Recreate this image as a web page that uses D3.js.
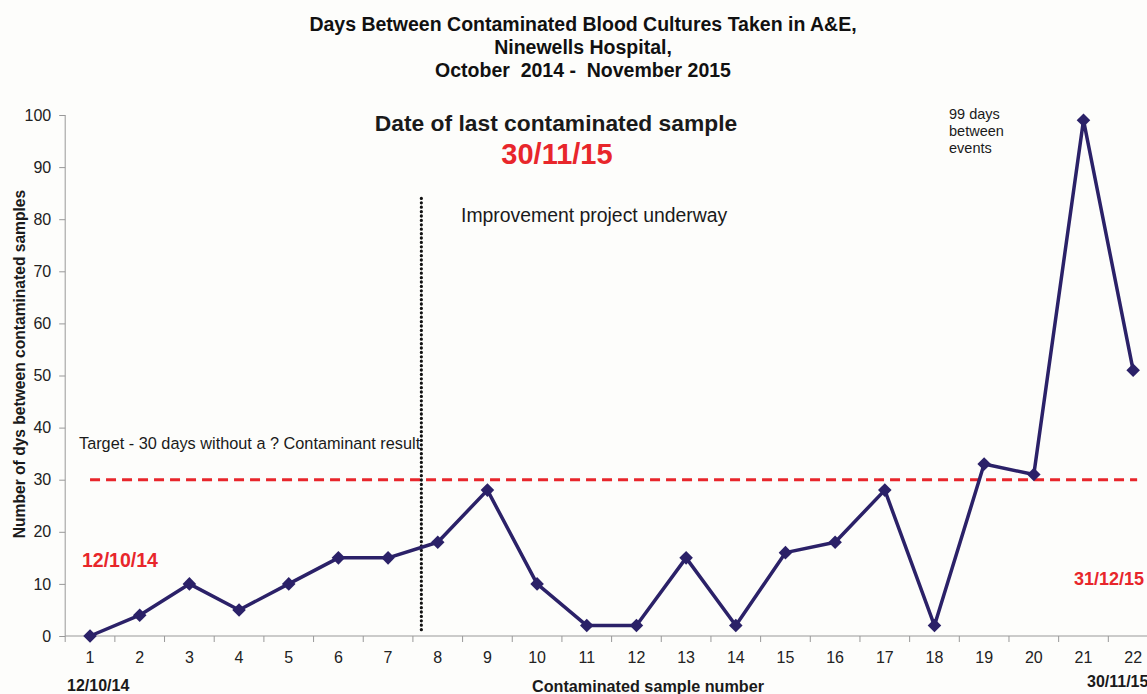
<!DOCTYPE html>
<html>
<head>
<meta charset="utf-8">
<script src="https://cdn.jsdelivr.net/npm/d3@7"></script>
<style>
  body { margin: 0; background: #fdfdfb; }
  svg { font-family: "Liberation Sans", Arial, sans-serif; }
  .axis text { font-size: 16px; fill: #222; }
  .axis path, .axis line { stroke: #999; }
</style>
</head>
<body>
<script>
    const chart_width = 1147;
    const chart_height = 694;

    // data
    const sample_numbers = d3.range(1, 23);
    const days_between = [0, 4, 10, 5, 10, 15, 15, 18, 28, 10, 2, 2, 15, 2, 16, 18, 28, 2, 33, 31, 99, 51];
    const y_ticks = [0, 10, 20, 30, 40, 50, 60, 70, 80, 90, 100];
    const target_days = 30;
    const project_start = 7.67;   // dotted line between samples 7 and 8
    const title_lines = ["Days Between Contaminated Blood Cultures Taken in A&E,", "Ninewells Hospital,", "October  2014 -  November 2015"];

    const svg = d3.select('body').append('svg').attr('width', chart_width).attr('height', chart_height);

    const x = d3.scaleLinear().domain([0.5, 22.5]).range([65.2, 1158]);
    const y = d3.scaleLinear().domain([0, 100]).range([636, 115]);

    // title
    svg.append('g').selectAll('text')
        .data(title_lines)
        .enter()
        .append('text')
          .attr('x', 583)
          .attr('y', (d, i) => 31 + i * 23)
          .attr('text-anchor', 'middle')
          .attr('font-size', 19.5)
          .attr('font-weight', 'bold')
          .attr('fill', '#111')
          .style('white-space', 'pre')
          .text(d => d);

    // axes
    svg.append('g')
        .attr('class', 'axis')
        .attr('transform', 'translate(' + x(0.5) + ',0)')
        .call(d3.axisLeft(y).tickValues(y_ticks).tickSize(6).tickPadding(8))
        .call(g => g.select('.domain').attr('d', 'M0,' + y(0) + 'V' + y(100)));

    const xAxis = svg.append('g')
        .attr('class', 'axis')
        .attr('transform', 'translate(0,' + y(0) + ')');
    xAxis.append('line')
        .attr('x1', x(0.5)).attr('x2', chart_width)
        .attr('stroke', '#999');
    xAxis.selectAll('.tick-mark')
        .data(d3.range(0.5, 22.6, 1))
        .enter()
        .append('line')
          .attr('x1', d => x(d)).attr('x2', d => x(d))
          .attr('y1', 0).attr('y2', 6)
          .attr('stroke', '#999');
    xAxis.selectAll('.tick-label')
        .data(sample_numbers)
        .enter()
        .append('text')
          .attr('x', d => x(d))
          .attr('y', 27)
          .attr('text-anchor', 'middle')
          .text(d => d);

    // target line
    svg.append('line')
        .attr('x1', x(1)).attr('x2', x(22.08))
        .attr('y1', y(target_days)).attr('y2', y(target_days))
        .attr('stroke', '#e8262b')
        .attr('stroke-width', 3)
        .attr('stroke-dasharray', '10,6');

    // improvement project start
    svg.append('line')
        .attr('x1', x(project_start)).attr('x2', x(project_start))
        .attr('y1', y(84)).attr('y2', y(1))
        .attr('stroke', '#111')
        .attr('stroke-width', 3.2)
        .attr('stroke-dasharray', '0.1,4.3')
        .attr('stroke-linecap', 'round');

    // series
    const line = d3.line()
        .x((d, i) => x(sample_numbers[i]))
        .y(d => y(d));
    svg.append('path')
        .attr('d', line(days_between))
        .attr('fill', 'none')
        .attr('stroke', '#2b2168')
        .attr('stroke-width', 3.5)
        .attr('stroke-linejoin', 'round');
    svg.append('g').selectAll('path')
        .data(days_between)
        .enter()
        .append('path')
          .attr('transform', (d, i) => 'translate(' + x(sample_numbers[i]) + ',' + y(d) + ') rotate(45)')
          .attr('d', d3.symbol().type(d3.symbolSquare).size(92))
          .attr('fill', '#2b2168');

    // annotations
    const note = (tx, ty, txt, opts) => {
        const o = Object.assign({size: 14, weight: 'normal', fill: '#1a1a1a', anchor: 'start'}, opts);
        return svg.append('text')
            .attr('x', tx).attr('y', ty)
            .attr('font-size', o.size)
            .attr('font-weight', o.weight)
            .attr('fill', o.fill)
            .attr('text-anchor', o.anchor)
            .text(txt);
    };
    note(556, 131, 'Date of last contaminated sample', {size: 22.8, weight: 'bold', anchor: 'middle'});
    note(557, 164, '30/11/15', {size: 29, weight: 'bold', fill: '#e8262b', anchor: 'middle'});
    note(461, 222, 'Improvement project underway', {size: 19.4});
    note(949, 119, '99 days', {size: 14.5});
    note(949, 136, 'between', {size: 14.5});
    note(949, 153, 'events', {size: 14.5});
    note(79, 449, 'Target - 30 days without a ? Contaminant result', {size: 16.3});
    note(82, 567, '12/10/14', {size: 19.5, weight: 'bold', fill: '#e8262b'});
    note(1074, 585, '31/12/15', {size: 18, weight: 'bold', fill: '#e8262b'});
    note(67, 691, '12/10/14', {size: 16, weight: 'bold'});
    note(1087, 687, '30/11/15', {size: 16, weight: 'bold'});
    note(648, 692, 'Contaminated sample number', {size: 16.2, weight: 'bold', anchor: 'middle'});

    svg.append('text')
        .attr('transform', 'translate(25,' + 364 + ') rotate(-90)')
        .attr('text-anchor', 'middle')
        .attr('font-size', 15.6)
        .attr('font-weight', 'bold')
        .attr('fill', '#1a1a1a')
        .text('Number of dys between contaminated samples');
</script>
</body>
</html>
